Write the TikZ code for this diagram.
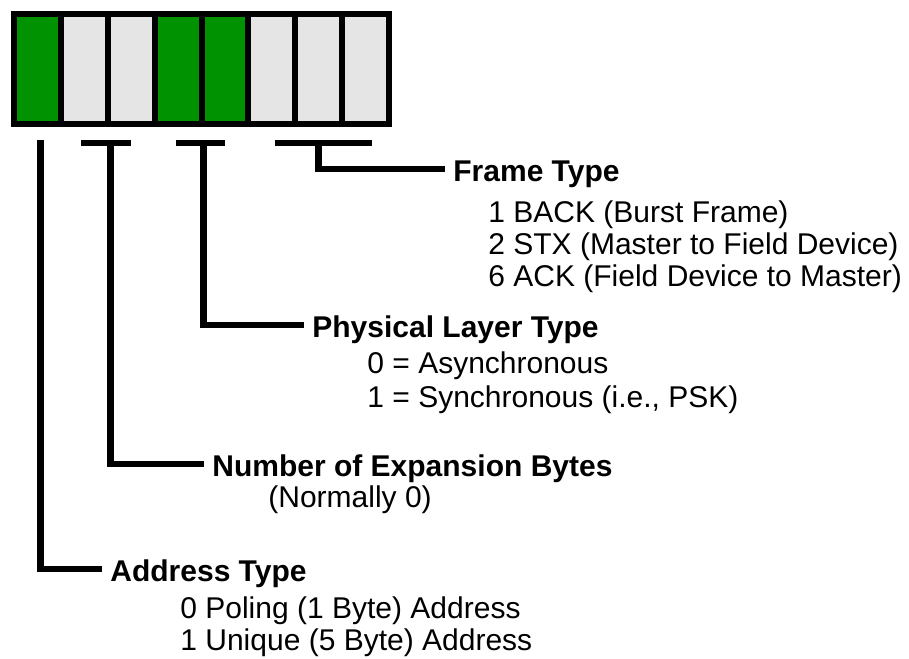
\documentclass[tikz,border=0pt]{standalone}
\usepackage{fontspec}
\setmainfont{Liberation Sans}
\usepackage{tikz}
\usetikzlibrary{positioning}
\definecolor{bitgreen}{RGB}{0,146,0}
\definecolor{bitgray}{RGB}{229,229,229}
\tikzstyle{cell}=[rectangle, draw=black, line width=3pt, minimum width=23.44pt, minimum height=55pt, inner sep=0pt]
\tikzstyle{setbit}=[cell, fill=bitgreen]
\tikzstyle{clrbit}=[cell, fill=bitgray]
\tikzstyle{head}=[font=\bfseries\fontsize{15}{18}\selectfont, text height=12pt, text depth=0pt, inner xsep=4pt, inner ysep=0pt, anchor=base west]
\tikzstyle{desc}=[font=\fontsize{15}{18}\selectfont, inner sep=0pt, anchor=base west]
\tikzstyle{wire}=[line width=3.3pt]

\begin{document}
\begin{tikzpicture}[x=0.5pt,y=-0.5pt]
		\useasboundingbox (0,0) rectangle (909,658);
		% the header byte
		\foreach \i/\s in {1/setbit,2/clrbit,3/clrbit,4/setbit,5/setbit,6/clrbit,7/clrbit,8/clrbit}
			\node[\s] (c\i) at ({14+46.875*(\i-0.5)},69) {};
		
		% field names
		\node[head] (frame) at (445,181) {Frame Type};
		\node[desc] (frame1) at (488,222) {1 BACK (Burst Frame)};
		\node[desc] (frame2) at (488,254) {2 STX (Master to Field Device)};
		\node[desc] (frame6) at (488,286) {6 ACK (Field Device to Master)};
		
		\node[head] (phy) at (304,337) {Physical Layer Type};
		\node[desc] (phy0) at (367,373) {0 = Asynchronous};
		\node[desc] (phy1) at (367,407) {1 = Synchronous (i.e., PSK)};
		
		\node[head] (exp) at (204,476) {Number of Expansion Bytes};
		\node[desc] (exp0) at (268,507) {(Normally 0)};
		
		\node[head] (addr) at (102,581) {Address Type};
		\node[desc] (addr0) at (180,618) {0 Poling (1 Byte) Address};
		\node[desc] (addr1) at (180,650) {1 Unique (5 Byte) Address};
		
		% brackets
		\draw[wire]([xshift=1.5pt,yshift=-6.5pt]c1.south) |- (addr.west);
		\draw[wire]([xshift=-1.5pt,yshift=-8pt]c2.south) -- ([yshift=-8pt]c3.south);
		\draw[wire]([yshift=-8pt]c2.south east) |- (exp.west);
		\draw[wire]([xshift=-1pt,yshift=-8pt]c4.south) -- ([yshift=-8pt]c5.south);
		\draw[wire]([xshift=-0.5pt,yshift=-8pt]c4.south east) |- (phy.west);
		\draw[wire]([xshift=1.5pt,yshift=-8pt]c6.south) -- ([xshift=3pt,yshift=-8pt]c8.south);
		\draw[wire]([yshift=-8pt]c7.south) |- (frame.west);
\end{tikzpicture}
\end{document}
